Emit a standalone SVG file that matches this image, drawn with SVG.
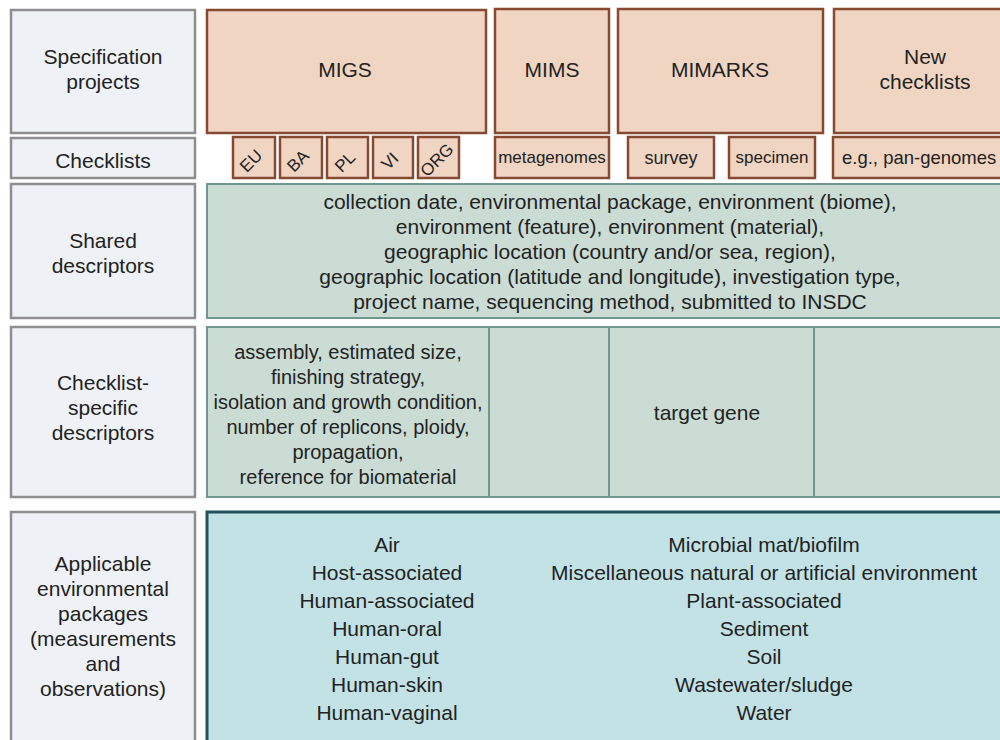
<svg xmlns="http://www.w3.org/2000/svg" width="1000" height="740" viewBox="0 0 1000 740">
<style>
text{font-family:"Liberation Sans",Arial,sans-serif;fill:#222;text-anchor:middle}
.lbl{font-size:21px}
.d20{font-size:20px}
.sm{font-size:17px}
.rot{font-size:17px}
.grey{fill:#eef1f5;stroke:#8e8e8e;stroke-width:2.5}
.or{fill:#f0d5c3;stroke:#864a30;stroke-width:2.5}
.gr{fill:#cbdcd5;stroke:#6f978d;stroke-width:2}
.bl{fill:#c3e2e6;stroke:#23505a;stroke-width:3}
</style>
<rect width="1000" height="740" fill="#fff"/>
<g id="row-labels">
<g id="lbl-spec"><rect class="grey" x="11" y="10" width="184" height="123"/>
<text class="lbl" x="103" y="64">Specification</text><text class="lbl" x="103" y="89">projects</text></g>
<g id="lbl-checklists"><rect class="grey" x="11" y="138" width="184" height="40"/>
<text class="lbl" x="103" y="168">Checklists</text></g>
<g id="lbl-shared"><rect class="grey" x="11" y="184" width="184" height="134"/>
<text class="lbl" x="103" y="248">Shared</text><text class="lbl" x="103" y="273">descriptors</text></g>
<g id="lbl-specific"><rect class="grey" x="11" y="327" width="184" height="170"/>
<text class="lbl" x="103" y="390">Checklist-</text><text class="lbl" x="103" y="415">specific</text><text class="lbl" x="103" y="440">descriptors</text></g>
<g id="lbl-env"><rect class="grey" x="11" y="512" width="184" height="240"/>
<text class="lbl" x="103" y="571">Applicable</text><text class="lbl" x="103" y="596">environmental</text><text class="lbl" x="103" y="621">packages</text><text class="lbl" x="103" y="646">(measurements</text><text class="lbl" x="103" y="671">and</text><text class="lbl" x="103" y="696">observations)</text></g>
</g>
<g id="projects">
<g id="migs"><rect class="or" x="207" y="10" width="279" height="123"/><text class="lbl" x="345" y="77">MIGS</text></g>
<g id="mims"><rect class="or" x="495" y="9" width="114" height="124"/><text class="lbl" x="552" y="77">MIMS</text></g>
<g id="mimarks"><rect class="or" x="618" y="9" width="205" height="124"/><text class="lbl" x="720" y="77">MIMARKS</text></g>
<g id="newcl"><rect class="or" x="834" y="9" width="180" height="124"/><text class="lbl" x="925" y="64">New</text><text class="lbl" x="925" y="89">checklists</text></g>
</g>
<g id="checklists">
<g id="eu"><rect class="or" x="233" y="137" width="42" height="41"/><text class="rot" transform="translate(255,165) rotate(-45)">EU</text></g>
<g id="ba"><rect class="or" x="280" y="137" width="42" height="41"/><text class="rot" transform="translate(302,165) rotate(-45)">BA</text></g>
<g id="pl"><rect class="or" x="327" y="137" width="41" height="41"/><text class="rot" transform="translate(349,166) rotate(-45)">PL</text></g>
<g id="vi"><rect class="or" x="373" y="137" width="40" height="41"/><text class="rot" transform="translate(394,165) rotate(-45)">VI</text></g>
<g id="org"><rect class="or" x="418" y="137" width="41" height="41"/><text class="rot" transform="translate(441,164) rotate(-45)">ORG</text></g>
<g id="metagenomes"><rect class="or" x="495" y="137" width="114" height="41"/><text class="sm" x="552" y="163">metagenomes</text></g>
<g id="survey"><rect class="or" x="628" y="137" width="86" height="41"/><text x="671" y="164" style="font-size:18px">survey</text></g>
<g id="specimen"><rect class="or" x="729" y="137" width="86" height="41"/><text class="sm" x="772" y="163">specimen</text></g>
<g id="pangenomes"><rect class="or" x="833" y="137" width="180" height="41"/><text x="842" y="164" style="font-size:18.5px;text-anchor:start">e.g., pan-genomes</text></g>
</g>
<g id="shared">
<rect class="gr" x="207" y="184" width="810" height="134"/>
<text class="lbl" x="610" y="209">collection date, environmental package, environment (biome),</text>
<text class="lbl" x="610" y="234">environment (feature), environment (material),</text>
<text class="lbl" x="610" y="259">geographic location (country and/or sea, region),</text>
<text class="lbl" x="610" y="284">geographic location (latitude and longitude), investigation type,</text>
<text class="lbl" x="610" y="309">project name, sequencing method, submitted to INSDC</text>
</g>
<g id="specific">
<g id="spec-migs"><rect class="gr" x="207" y="327" width="282" height="170"/>
<text class="d20" x="348" y="359">assembly, estimated size,</text>
<text class="d20" x="348" y="384">finishing strategy,</text>
<text class="d20" x="348" y="409">isolation and growth condition,</text>
<text class="d20" x="348" y="434">number of replicons, ploidy,</text>
<text class="d20" x="348" y="459">propagation,</text>
<text class="d20" x="348" y="484">reference for biomaterial</text></g>
<g id="spec-mims"><rect class="gr" x="489" y="327" width="120" height="170"/></g>
<g id="spec-mimarks"><rect class="gr" x="609" y="327" width="205" height="170"/><text class="lbl" x="707" y="420">target gene</text></g>
<g id="spec-new"><rect class="gr" x="814" y="327" width="200" height="170"/></g>
</g>
<g id="envpackages">
<rect class="bl" x="207" y="512" width="810" height="240"/>
<g id="env-left">
<text class="lbl" x="387" y="552">Air</text>
<text class="lbl" x="387" y="580">Host-associated</text>
<text class="lbl" x="387" y="608">Human-associated</text>
<text class="lbl" x="387" y="636">Human-oral</text>
<text class="lbl" x="387" y="664">Human-gut</text>
<text class="lbl" x="387" y="692">Human-skin</text>
<text class="lbl" x="387" y="720">Human-vaginal</text>
</g>
<g id="env-right">
<text class="lbl" x="764" y="552">Microbial mat/biofilm</text>
<text class="lbl" x="764" y="580">Miscellaneous natural or artificial environment</text>
<text class="lbl" x="764" y="608">Plant-associated</text>
<text class="lbl" x="764" y="636">Sediment</text>
<text class="lbl" x="764" y="664">Soil</text>
<text class="lbl" x="764" y="692">Wastewater/sludge</text>
<text class="lbl" x="764" y="720">Water</text>
</g>
</g>
<g id="connectors"/>
</svg>
